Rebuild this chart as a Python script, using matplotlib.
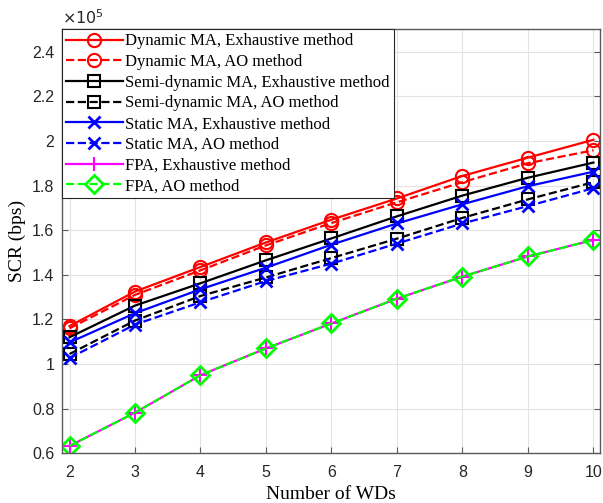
import matplotlib
matplotlib.use("Agg")
import matplotlib.pyplot as plt
import numpy as np

num_wds = [2, 3, 4, 5, 6, 7, 8, 9, 10]
dyn_exh = [1.17, 1.325, 1.435, 1.545, 1.647, 1.742, 1.843, 1.925, 2.005]
dyn_ao = [1.16, 1.31, 1.42, 1.532, 1.632, 1.725, 1.815, 1.900, 1.958]
semi_exh = [1.12, 1.262, 1.362, 1.465, 1.563, 1.662, 1.755, 1.835, 1.903]
semi_ao = [1.045, 1.195, 1.305, 1.388, 1.475, 1.562, 1.655, 1.738, 1.815]
static_exh = [1.097, 1.228, 1.335, 1.432, 1.535, 1.630, 1.716, 1.797, 1.862]
static_ao = [1.027, 1.177, 1.277, 1.372, 1.450, 1.540, 1.630, 1.708, 1.788]
fpa_exh = [0.633, 0.782, 0.950, 1.070, 1.182, 1.293, 1.392, 1.482, 1.556]
fpa_ao = [0.633, 0.782, 0.950, 1.070, 1.182, 1.293, 1.392, 1.482, 1.556]

labels = ["Dynamic MA, Exhaustive method", "Dynamic MA, AO method",
          "Semi-dynamic MA, Exhaustive method", "Semi-dynamic MA, AO method",
          "Static MA, Exhaustive method", "Static MA, AO method",
          "FPA, Exhaustive method", "FPA, AO method"]

serif = ["Liberation Serif", "DejaVu Serif"]
sans = ["Liberation Sans", "DejaVu Sans"]

fig = plt.figure(figsize=(6.03, 5.03), dpi=100)
ax = fig.add_axes([0.1028, 0.0988, 0.8922, 0.8429])

lw = 1.6
ms = 9.5
mew = 1.5
ax.plot(num_wds, dyn_exh, '-', color='red', marker='o', mfc='none', ms=ms, mew=mew, lw=lw, label=labels[0])
ax.plot(num_wds, dyn_ao, '--', color='red', marker='o', mfc='none', ms=ms, mew=mew, lw=lw, label=labels[1])
ax.plot(num_wds, semi_exh, '-', color='black', marker='s', mfc='none', ms=8, mew=mew, lw=lw, label=labels[2])
ax.plot(num_wds, semi_ao, '--', color='black', marker='s', mfc='none', ms=8, mew=mew, lw=lw, label=labels[3])
ax.plot(num_wds, static_exh, '-', color='blue', marker='x', ms=8.5, mew=2, lw=lw, label=labels[4])
ax.plot(num_wds, static_ao, '--', color='blue', marker='x', ms=8.5, mew=2, lw=lw, label=labels[5])
ax.plot(num_wds, fpa_exh, '-', color='magenta', marker='+', ms=10, mew=1.5, lw=lw, label=labels[6])
ax.plot(num_wds, fpa_ao, '--', color='#00ff00', marker='D', mfc='none', ms=9, mew=2, lw=lw, label=labels[7])

ax.set_xlim(1.885, 10.1)
ax.set_ylim(0.6, 2.5)
ax.set_xticks(num_wds)
ax.set_yticks([0.6, 0.8, 1.0, 1.2, 1.4, 1.6, 1.8, 2.0, 2.2, 2.4])
ax.set_yticklabels(["0.6", "0.8", "1", "1.2", "1.4", "1.6", "1.8", "2", "2.2", "2.4"])
ax.grid(True, color='#e3e3e3', lw=0.8)
ax.set_axisbelow(True)
for s in ax.spines.values():
    s.set_color('#5a5a5a')
    s.set_linewidth(1.0)
ax.tick_params(direction='in', length=4, width=0.8, color='#5a5a5a', labelsize=11.5,
               labelcolor='#262626', top=False, right=True)
ax.tick_params(axis='x', pad=8.5)
ax.tick_params(axis='y', pad=5.5)
for t in ax.get_xticklabels() + ax.get_yticklabels():
    t.set_fontfamily(sans)

ax.set_xlabel("Number of WDs", fontsize=14, family=serif, labelpad=4)
ax.set_ylabel("SCR (bps)", fontsize=14, family=serif, labelpad=4)
ax.text(0.0, 1.005, r"$\times10^{5}$", transform=ax.transAxes, fontsize=11.5, family=sans,
        ha='left', va='bottom', color='#262626')

leg = ax.legend(loc='upper left', prop={'family': serif, 'size': 12}, handlelength=3.4,
                handletextpad=0.15, borderaxespad=0.0, borderpad=0.25, labelspacing=0.28,
                fancybox=False, framealpha=1, edgecolor='#262626')
leg.get_frame().set_linewidth(0.8)

fig.savefig("out.png", dpi=100)
